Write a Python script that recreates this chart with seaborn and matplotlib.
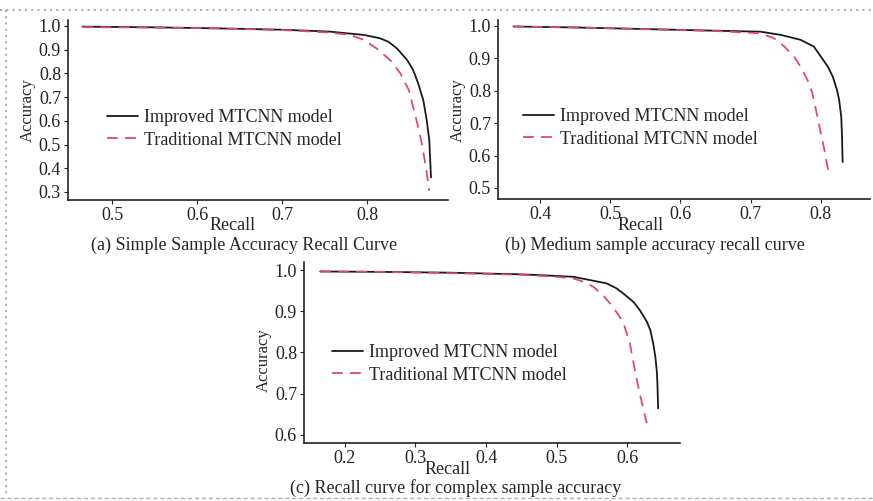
import matplotlib
matplotlib.use("Agg")
import matplotlib.pyplot as plt
from matplotlib.lines import Line2D
from matplotlib.ticker import FormatStrFormatter
import pandas as pd
import seaborn as sns

# Dados ----------------------------------------------------------------------------------------------
# (a) amostras simples
recall_a_imp = [0.465, 0.55, 0.62, 0.70, 0.756, 0.796, 0.815, 0.825, 0.835, 0.847, 0.854, 0.860,
                0.866, 0.870, 0.873, 0.875]
acc_a_imp = [0.997, 0.994, 0.990, 0.984, 0.976, 0.962, 0.948, 0.933, 0.905, 0.856, 0.814, 0.757,
             0.686, 0.602, 0.517, 0.361]
recall_a_tra = [0.465, 0.55, 0.62, 0.70, 0.756, 0.780, 0.796, 0.811, 0.827, 0.839, 0.849, 0.854,
                0.860, 0.865, 0.869, 0.873]
acc_a_tra = [0.995, 0.993, 0.990, 0.983, 0.972, 0.962, 0.941, 0.905, 0.856, 0.800, 0.729, 0.658,
             0.573, 0.489, 0.404, 0.305]

# (b) amostras médias
recall_b_imp = [0.362, 0.45, 0.55, 0.65, 0.714, 0.743, 0.771, 0.790, 0.800, 0.810, 0.817, 0.823,
                0.826, 0.829, 0.830, 0.831]
acc_b_imp = [0.998, 0.995, 0.990, 0.985, 0.982, 0.972, 0.957, 0.936, 0.905, 0.874, 0.843, 0.802,
             0.772, 0.720, 0.669, 0.58]
recall_b_tra = [0.362, 0.45, 0.55, 0.65, 0.714, 0.733, 0.748, 0.762, 0.771, 0.781, 0.788, 0.793,
                0.800, 0.806, 0.812]
acc_b_tra = [0.998, 0.995, 0.990, 0.984, 0.977, 0.962, 0.936, 0.905, 0.874, 0.833, 0.792, 0.741,
             0.669, 0.607, 0.535]

# (c) amostras complexas
recall_c_imp = [0.165, 0.25, 0.35, 0.45, 0.477, 0.524, 0.571, 0.585, 0.595, 0.609, 0.618, 0.628,
                0.633, 0.637, 0.640, 0.642, 0.643, 0.644]
acc_c_imp = [0.997, 0.996, 0.994, 0.990, 0.988, 0.984, 0.968, 0.956, 0.943, 0.923, 0.903, 0.875,
             0.854, 0.822, 0.790, 0.757, 0.725, 0.664]
recall_c_tra = [0.165, 0.25, 0.35, 0.45, 0.50, 0.524, 0.538, 0.552, 0.566, 0.576, 0.588, 0.595,
                0.604, 0.611, 0.618, 0.628]
acc_c_tra = [0.997, 0.996, 0.993, 0.989, 0.984, 0.980, 0.972, 0.960, 0.939, 0.919, 0.891, 0.871,
             0.822, 0.757, 0.700, 0.628]

labels = ["Improved MTCNN model", "Traditional MTCNN model"]
captions = ["(a) Simple Sample Accuracy Recall Curve",
            "(b) Medium sample accuracy recall curve",
            "(c) Recall curve for complex sample accuracy"]
xticks_a = [0.5, 0.6, 0.7, 0.8]
yticks_a = [0.3, 0.4, 0.5, 0.6, 0.7, 0.8, 0.9, 1.0]
xticks_b = [0.4, 0.5, 0.6, 0.7, 0.8]
yticks_b = [0.5, 0.6, 0.7, 0.8, 0.9, 1.0]
xticks_c = [0.2, 0.3, 0.4, 0.5, 0.6]
yticks_c = [0.6, 0.7, 0.8, 0.9, 1.0]

# Estilo ---------------------------------------------------------------------------------------------
sns.set_theme(style="ticks")
plt.rcParams["font.family"] = ["Liberation Serif", "DejaVu Serif"]

W, H = 873, 501
fig = plt.figure(figsize=(W / 100, H / 100), dpi=100)

cor_imp = "#1a1a1a"
cor_tra = "#e0457b"


def px(x, y):
    """Converte pixels (origem no topo) para fração da figura."""
    return x / W, 1 - y / H


def painel(box, r_imp, a_imp, r_tra, a_tra, xlim, ylim, xt, yt, leg_xy, xlab_xy, ylab_xy, cap_xy, caption):
    l, t, r, b = box
    ax = fig.add_axes([l / W, 1 - b / H, (r - l) / W, (b - t) / H])
    df = pd.concat([
        pd.DataFrame({"Recall": r_imp, "Accuracy": a_imp, "modelo": labels[0]}),
        pd.DataFrame({"Recall": r_tra, "Accuracy": a_tra, "modelo": labels[1]}),
    ])
    sns.lineplot(data=df, x="Recall", y="Accuracy", hue="modelo", style="modelo",
                 palette=[cor_imp, cor_tra], dashes=[(None, None), (6, 4)],
                 sort=False, estimator=None, linewidth=1.3, ax=ax, legend=False)
    ax.set_xlim(*xlim)
    ax.set_ylim(*ylim)
    ax.set_xticks(xt)
    ax.set_yticks(yt)
    ax.xaxis.set_major_formatter(FormatStrFormatter("%.1f"))
    ax.yaxis.set_major_formatter(FormatStrFormatter("%.1f"))
    ax.tick_params(labelsize=13, length=3, width=0.8, pad=2, colors="#222222")
    for s in ["left", "bottom"]:
        ax.spines[s].set_linewidth(1.2)
        ax.spines[s].set_color("#222222")
    sns.despine(ax=ax)
    ax.set_xlabel("")
    ax.set_ylabel("")

    handles = [Line2D([], [], color=cor_imp, lw=1.3),
               Line2D([], [], color=cor_tra, lw=1.3, dashes=(6, 4))]
    ax.legend(handles, labels, loc="center left", bbox_to_anchor=px(*leg_xy),
              bbox_transform=fig.transFigure, frameon=False, fontsize=13,
              handlelength=1.7, handletextpad=0.35, labelspacing=0.3,
              borderpad=0, borderaxespad=0)

    fig.text(*px(*xlab_xy), "Recall", ha="center", va="center", fontsize=13)
    fig.text(*px(*ylab_xy), "Accuracy", ha="center", va="center", fontsize=12, rotation=90)
    fig.text(*px(*cap_xy), caption, ha="center", va="center", fontsize=13)
    return ax


painel((68, 20, 448, 200), recall_a_imp, acc_a_imp, recall_a_tra, acc_a_tra,
       (0.448, 0.895), (0.266, 1.025), xticks_a, yticks_a,
       (107, 129), (233, 226), (28, 110), (244, 245), captions[0])
painel((498, 20, 870, 199), recall_b_imp, acc_b_imp, recall_b_tra, acc_b_tra,
       (0.34, 0.87), (0.466, 1.018), xticks_b, yticks_b,
       (523, 128), (641, 226), (458, 110), (655, 245), captions[1])
painel((304, 262, 680, 443), recall_c_imp, acc_c_imp, recall_c_tra, acc_c_tra,
       (0.142, 0.675), (0.58, 1.02), xticks_c, yticks_c,
       (332, 364), (448, 469), (264, 360), (456, 488), captions[2])

# Moldura pontilhada da página
fig.add_artist(Line2D([0, 1], [1 - 10 / H] * 2, transform=fig.transFigure,
                      color="#b0b0b0", lw=1.5, ls=(0, (1, 2))))
fig.add_artist(Line2D([6 / W] * 2, [1 - 10 / H, 1 - 497 / H], transform=fig.transFigure,
                      color="#b0b0b0", lw=1.5, ls=(0, (1, 2))))
fig.add_artist(Line2D([0, 1], [1 - 498 / H] * 2, transform=fig.transFigure,
                      color="#b0b0b0", lw=1.0, ls=(0, (3, 2))))

fig.savefig("out.png", dpi=100)
